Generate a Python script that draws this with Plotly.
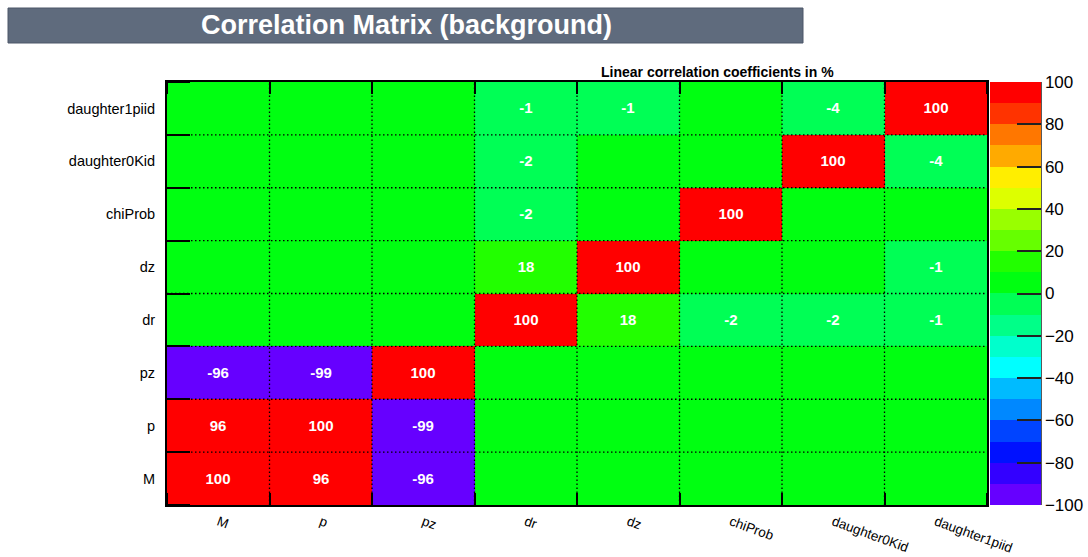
import plotly.graph_objects as go

# Variables of the correlation matrix (bottom-to-top / left-to-right)
variables = ["M", "p", "pz", "dr", "dz", "chiProb", "daughter0Kid", "daughter1piid"]

# Linear correlation coefficients in %, one row per variable (row order = variables)
row_M = [100, 96, -96, 0, 0, 0, 0, 0]
row_p = [96, 100, -99, 0, 0, 0, 0, 0]
row_pz = [-96, -99, 100, 0, 0, 0, 0, 0]
row_dr = [0, 0, 0, 100, 18, -2, -2, -1]
row_dz = [0, 0, 0, 18, 100, 0, 0, -1]
row_chiProb = [0, 0, 0, -2, 0, 100, 0, 0]
row_daughter0Kid = [0, 0, 0, -2, 0, 0, 100, -4]
row_daughter1piid = [0, 0, 0, -1, -1, 0, -4, 100]

corr = [row_M, row_p, row_pz, row_dr, row_dz, row_chiProb, row_daughter0Kid, row_daughter1piid]

# 20-band palette from -100 (bottom) to +100 (top)
band_colors = [
    "#6600FF", "#3300FF", "#0011FF", "#0044FF", "#0088FF",
    "#00BBFF", "#00FFFF", "#00FFCC", "#00FF88", "#00FF55",
    "#00FF11", "#22FF00", "#66FF00", "#99FF00", "#DDFF00",
    "#FFEE00", "#FFAA00", "#FF7700", "#FF3300", "#FF0000",
]
colorscale = []
nb = len(band_colors)
for k, c in enumerate(band_colors):
    colorscale.append([k / nb, c])
    colorscale.append([(k + 1) / nb, c])

labels = [[(str(v) if v != 0 else "") for v in row] for row in corr]

n = len(variables)
idx = list(range(n))

# page geometry (pixels)
W, H = 1088, 557
L, R, T, B = 167, 987, 82, 505


def px_x(x):
    return (x - L) / (R - L)


def px_y(y):
    return (B - y) / (B - T)


FONT = "Liberation Sans, Arial, Helvetica, sans-serif"

fig = go.Figure()

fig.add_trace(go.Heatmap(
    z=corr, x=idx, y=idx,
    zmin=-100, zmax=100,
    colorscale=colorscale,
    text=labels, texttemplate="%{text}",
    textfont=dict(family=FONT, size=15, color="white", weight="bold"),
    hoverinfo="skip",
    colorbar=dict(
        thickness=51, thicknessmode="pixels",
        len=1, lenmode="fraction", y=0.5, yanchor="middle", ypad=0,
        x=px_x(990), xanchor="left", xpad=0,
        outlinewidth=0,
        tickvals=list(range(-100, 101, 20)),
        ticks="inside", ticklen=24, tickwidth=1.5, tickcolor="#222",
        tickfont=dict(family=FONT, size=17, color="black"),
    ),
))

# dotted grid between the cells, drawn above the heatmap
gx, gy = [], []
for k in range(n - 1):
    b = k + 0.5
    gx += [b, b, None]
    gy += [-0.5, n - 0.5, None]
    gx += [-0.5, n - 0.5, None]
    gy += [b, b, None]
fig.add_trace(go.Scatter(
    x=gx, y=gy, mode="lines", hoverinfo="skip", showlegend=False,
    line=dict(color="black", width=1.3, dash="1.5px,2.5px"),
))

fig.update_xaxes(
    range=[-0.5, n - 0.5], tickmode="array", tickvals=idx, ticktext=variables,
    tickangle=20, ticks="", showgrid=False, zeroline=False,
    showline=True, linecolor="black", linewidth=2, mirror="ticks",
    tickfont=dict(family=FONT, size=13.5, color="black"),
    ticklabelstandoff=2,
    minor=dict(tick0=0.5, dtick=1, ticks="inside", ticklen=12,
               tickcolor="black", tickwidth=1.5, showgrid=False),
)
fig.update_yaxes(
    range=[-0.5, n - 0.5], tickmode="array", tickvals=idx, ticktext=variables,
    ticks="", showgrid=False, zeroline=False,
    showline=True, linecolor="black", linewidth=2, mirror=True,
    tickfont=dict(family=FONT, size=14.5, color="black"),
    ticklabelstandoff=7,
    minor=dict(tick0=0.5, dtick=1, ticks="inside", ticklen=23,
               tickcolor="black", tickwidth=1.5, showgrid=False),
)

# colour-axis line on the right side of the bar
fig.add_shape(type="line", xref="paper", yref="paper",
              x0=px_x(1041), x1=px_x(1041), y0=0, y1=1,
              line=dict(color="#222", width=1.5))

# title banner
fig.add_shape(type="rect", xref="paper", yref="paper",
              x0=px_x(8), x1=px_x(803), y0=px_y(43), y1=px_y(8),
              fillcolor="#5F6B7D", line=dict(color="#4C5768", width=1))
fig.add_annotation(
    xref="paper", yref="paper", x=px_x(406), y=px_y(25.5),
    xanchor="center", yanchor="middle", showarrow=False,
    text="Correlation Matrix (background)",
    font=dict(family=FONT, size=27, color="white", weight="bold"),
)
fig.add_annotation(
    xref="paper", yref="paper", x=px_x(717), y=px_y(72),
    xanchor="center", yanchor="middle", showarrow=False,
    text="Linear correlation coefficients in %",
    font=dict(family=FONT, size=14, color="black", weight="bold"),
)

fig.update_layout(
    width=W, height=H,
    margin=dict(l=L, r=W - R, t=T, b=H - B, autoexpand=False),
    paper_bgcolor="white", plot_bgcolor="white",
    showlegend=False,
)

fig.write_html("out.html")
